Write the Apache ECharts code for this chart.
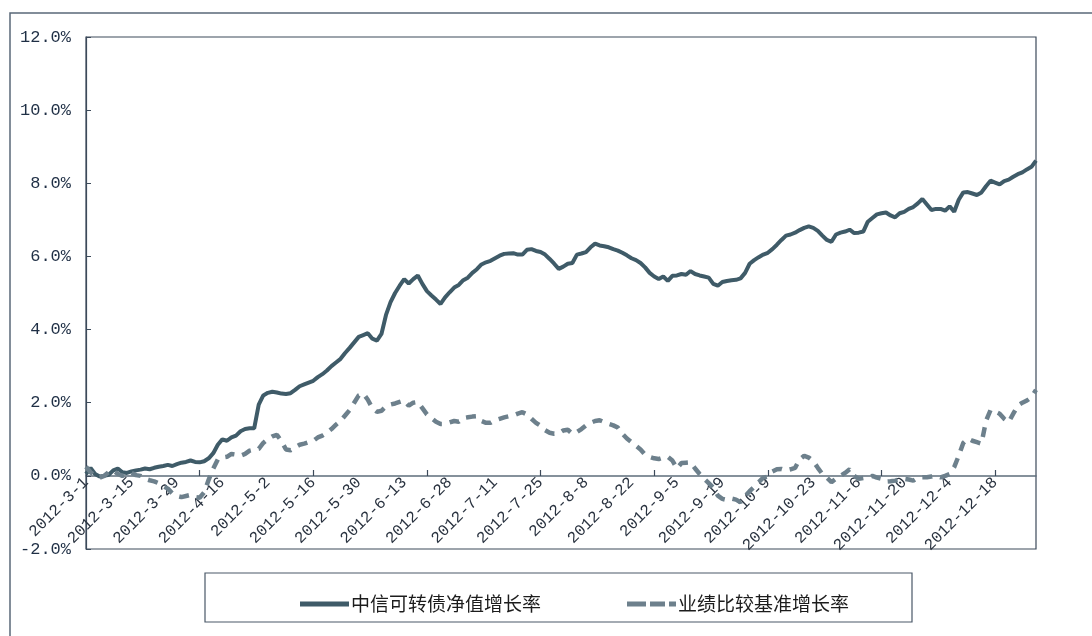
<!DOCTYPE html>
<html>
<head>
<meta charset="utf-8">
<script src="https://cdn.jsdelivr.net/npm/echarts@6/dist/echarts.min.js"></script>
<style>
html,body{margin:0;padding:0;background:#fff;}
#chart{width:1092px;height:636px;}
</style>
</head>
<body>
<div id="chart"></div>
<script>
const dates = [
"2012-3-1","2012-3-2","2012-3-5","2012-3-6","2012-3-7","2012-3-8","2012-3-9","2012-3-12","2012-3-13","2012-3-14",
"2012-3-15","2012-3-16","2012-3-19","2012-3-20","2012-3-21","2012-3-22","2012-3-23","2012-3-26","2012-3-27","2012-3-28",
"2012-3-29","2012-3-30","2012-3-31","2012-4-5","2012-4-6","2012-4-9","2012-4-10","2012-4-11","2012-4-12","2012-4-13",
"2012-4-16","2012-4-17","2012-4-18","2012-4-19","2012-4-20","2012-4-23","2012-4-24","2012-4-25","2012-4-26","2012-4-27",
"2012-5-2","2012-5-3","2012-5-4","2012-5-7","2012-5-8","2012-5-9","2012-5-10","2012-5-11","2012-5-14","2012-5-15",
"2012-5-16","2012-5-17","2012-5-18","2012-5-21","2012-5-22","2012-5-23","2012-5-24","2012-5-25","2012-5-28","2012-5-29",
"2012-5-30","2012-5-31","2012-6-1","2012-6-4","2012-6-5","2012-6-6","2012-6-7","2012-6-8","2012-6-11","2012-6-12",
"2012-6-13","2012-6-14","2012-6-15","2012-6-18","2012-6-19","2012-6-20","2012-6-21","2012-6-25","2012-6-26","2012-6-27",
"2012-6-28","2012-6-29","2012-6-30","2012-7-2","2012-7-3","2012-7-4","2012-7-5","2012-7-6","2012-7-9","2012-7-10",
"2012-7-11","2012-7-12","2012-7-13","2012-7-16","2012-7-17","2012-7-18","2012-7-19","2012-7-20","2012-7-23","2012-7-24",
"2012-7-25","2012-7-26","2012-7-27","2012-7-30","2012-7-31","2012-8-1","2012-8-2","2012-8-3","2012-8-6","2012-8-7",
"2012-8-8","2012-8-9","2012-8-10","2012-8-13","2012-8-14","2012-8-15","2012-8-16","2012-8-17","2012-8-20","2012-8-21",
"2012-8-22","2012-8-23","2012-8-24","2012-8-27","2012-8-28","2012-8-29","2012-8-30","2012-8-31","2012-9-3","2012-9-4",
"2012-9-5","2012-9-6","2012-9-7","2012-9-10","2012-9-11","2012-9-12","2012-9-13","2012-9-14","2012-9-17","2012-9-18",
"2012-9-19","2012-9-20","2012-9-21","2012-9-24","2012-9-25","2012-9-26","2012-9-27","2012-9-28","2012-9-30","2012-10-8",
"2012-10-9","2012-10-10","2012-10-11","2012-10-12","2012-10-15","2012-10-16","2012-10-17","2012-10-18","2012-10-19","2012-10-22",
"2012-10-23","2012-10-24","2012-10-25","2012-10-26","2012-10-29","2012-10-30","2012-10-31","2012-11-1","2012-11-2","2012-11-5",
"2012-11-6","2012-11-7","2012-11-8","2012-11-9","2012-11-12","2012-11-13","2012-11-14","2012-11-15","2012-11-16","2012-11-19",
"2012-11-20","2012-11-21","2012-11-22","2012-11-23","2012-11-26","2012-11-27","2012-11-28","2012-11-29","2012-11-30","2012-12-3",
"2012-12-4","2012-12-5","2012-12-6","2012-12-7","2012-12-10","2012-12-11","2012-12-12","2012-12-13","2012-12-14","2012-12-17",
"2012-12-18","2012-12-19","2012-12-20","2012-12-21","2012-12-24","2012-12-25","2012-12-26","2012-12-27","2012-12-28","2012-12-31"
];

const seriesNames = ["中信可转债净值增长率", "业绩比较基准增长率"];

// 中信可转债净值增长率 (%)
const navGrowth = [
0.05,0.22,0.05,-0.02,0.00,0.03,0.15,0.20,0.10,0.08,
0.12,0.15,0.17,0.20,0.18,0.22,0.25,0.27,0.30,0.27,
0.32,0.36,0.38,0.42,0.38,0.37,0.40,0.48,0.62,0.85,
1.00,0.96,1.05,1.10,1.22,1.28,1.30,1.30,1.95,2.20,
2.27,2.30,2.28,2.25,2.24,2.26,2.35,2.45,2.50,2.55,
2.60,2.70,2.78,2.88,3.00,3.10,3.20,3.36,3.50,3.65,
3.80,3.85,3.90,3.75,3.70,3.88,4.40,4.75,5.00,5.20,
5.38,5.26,5.38,5.48,5.25,5.05,4.93,4.82,4.70,4.88,
5.02,5.15,5.22,5.35,5.42,5.55,5.65,5.78,5.84,5.88,
5.95,6.02,6.07,6.08,6.09,6.05,6.05,6.18,6.20,6.15,
6.12,6.05,5.93,5.80,5.66,5.72,5.80,5.82,6.05,6.08,
6.12,6.25,6.35,6.30,6.28,6.25,6.20,6.16,6.10,6.03,
5.95,5.90,5.82,5.70,5.55,5.45,5.38,5.45,5.33,5.47,
5.48,5.52,5.50,5.60,5.52,5.48,5.45,5.42,5.25,5.20,
5.30,5.33,5.35,5.36,5.40,5.55,5.80,5.90,5.98,6.05,
6.10,6.20,6.32,6.45,6.57,6.60,6.65,6.72,6.78,6.82,
6.78,6.70,6.57,6.45,6.40,6.60,6.65,6.68,6.73,6.64,
6.65,6.68,6.95,7.05,7.15,7.18,7.20,7.12,7.07,7.18,
7.22,7.30,7.35,7.45,7.57,7.42,7.27,7.30,7.30,7.25,
7.37,7.22,7.55,7.75,7.76,7.72,7.68,7.75,7.92,8.07,
8.02,7.97,8.06,8.10,8.18,8.25,8.30,8.38,8.45,8.62
];

// 业绩比较基准增长率 (%)
const benchmarkGrowth = [
0.25,0.10,0.00,-0.05,0.00,0.10,0.15,0.05,0.00,0.05,
0.08,0.02,0.00,-0.08,-0.12,-0.15,-0.20,-0.28,-0.35,-0.48,
-0.55,-0.58,-0.55,-0.52,-0.58,-0.60,-0.45,-0.10,0.20,0.45,
0.50,0.52,0.60,0.58,0.55,0.60,0.69,0.72,0.74,0.90,
1.00,1.08,1.12,0.95,0.72,0.70,0.78,0.85,0.88,0.92,
0.96,1.05,1.10,1.18,1.28,1.40,1.50,1.65,1.80,2.00,
2.20,2.25,2.08,1.85,1.75,1.78,1.90,1.95,1.98,2.02,
2.06,1.92,2.00,2.02,1.85,1.68,1.58,1.48,1.42,1.42,
1.46,1.50,1.48,1.58,1.60,1.62,1.63,1.50,1.45,1.45,
1.52,1.56,1.60,1.63,1.65,1.70,1.74,1.68,1.56,1.45,
1.37,1.25,1.18,1.15,1.16,1.24,1.26,1.15,1.20,1.28,
1.38,1.45,1.50,1.52,1.47,1.42,1.38,1.32,1.15,1.02,
0.92,0.82,0.72,0.58,0.52,0.48,0.46,0.50,0.52,0.42,
0.20,0.35,0.36,0.37,0.20,0.05,-0.08,-0.20,-0.32,-0.54,
-0.63,-0.66,-0.62,-0.65,-0.72,-0.56,-0.42,-0.30,-0.17,-0.05,
-0.02,0.12,0.18,0.19,0.15,0.18,0.22,0.45,0.55,0.50,
0.40,0.22,0.05,-0.05,-0.17,-0.08,0.00,0.08,0.18,0.00,
-0.08,-0.06,-0.04,0.00,-0.05,-0.08,-0.16,-0.15,-0.13,-0.10,
-0.08,-0.10,-0.13,-0.05,-0.04,-0.04,-0.02,0.00,-0.04,0.00,
0.05,0.24,0.55,0.90,1.02,0.96,0.92,0.88,1.50,1.80,
1.76,1.70,1.56,1.47,1.70,1.92,2.00,2.06,2.15,2.35
];

const yMin = -2, yMax = 12, yStep = 2;

const gridTop = 37, gridBottom = 87, chartH = 636;
const gridH = chartH - gridTop - gridBottom;
// move the category axis (line, ticks and labels) up to the 0% level
const xAxisOffset = -Math.round((0 - yMin) / (yMax - yMin) * gridH);

const solidColor = '#3f5b68';
const dashColor = '#6d808c';
const axisColor = '#3c4a5a';

const chart = echarts.init(document.getElementById('chart'), null, {renderer: 'canvas'});
chart.setOption({
  backgroundColor: '#ffffff',
  animation: false,
  graphic: [
    {type: 'rect', shape: {x: 10, y: 13, width: 1200, height: 700}, style: {fill: 'none', stroke: '#5a6878', lineWidth: 1.5}, z: 0},
    {type: 'rect', shape: {x: 205, y: 573, width: 707, height: 49}, style: {fill: 'none', stroke: '#4a5868', lineWidth: 1.2}, z: 0}
  ],
  grid: {
    left: 86, top: gridTop, right: 56, bottom: gridBottom,
    show: true, borderColor: axisColor, borderWidth: 1.2, backgroundColor: 'transparent'
  },
  legend: {
    left: 295, top: 588,
    itemWidth: 49, itemHeight: 5, itemGap: 86,
    data: [
      {name: seriesNames[0], icon: 'path://M0,0H49V5H0Z'},
      {name: seriesNames[1], icon: 'path://M0,0H19V5H0Z M23,0H38V5H23Z M42,0H49V5H42Z'}
    ],
    textStyle: {fontFamily: 'Noto Sans CJK SC', fontSize: 19, lineHeight: 22, color: '#1c1c1c', padding: [0,0,0,-3]}
  },
  xAxis: {
    type: 'category',
    data: dates,
    boundaryGap: false,
    offset: xAxisOffset,
    axisLine: {onZero: false, lineStyle: {color: '#5d6d7b', width: 1.5}},
    axisTick: {show: true, inside: true, interval: 24, length: 6, lineStyle: {color: '#3c4a5a', width: 1.2}},
    axisLabel: {
      interval: 9, rotate: 45, margin: 4,
      fontFamily: 'Liberation Mono', fontSize: 16, color: '#2a3340'
    },
    splitLine: {show: false}
  },
  yAxis: {
    type: 'value',
    min: yMin, max: yMax, interval: yStep,
    axisLine: {show: true, onZero: false, lineStyle: {color: axisColor, width: 1.2}},
    axisTick: {show: true, inside: true, length: 5, lineStyle: {color: axisColor}},
    axisLabel: {
      margin: 15,
      fontFamily: 'Liberation Mono', fontSize: 17, color: '#1f2f45',
      formatter: v => v.toFixed(1) + '%'
    },
    splitLine: {show: false}
  },
  series: [
    {
      name: seriesNames[0], type: 'line', data: navGrowth,
      symbol: 'none', smooth: false, z: 3,
      lineStyle: {color: solidColor, width: 4},
      itemStyle: {color: solidColor}
    },
    {
      name: seriesNames[1], type: 'line', data: benchmarkGrowth,
      symbol: 'none', smooth: false, z: 4,
      lineStyle: {color: dashColor, width: 4.5, type: [10, 8]},
      itemStyle: {color: dashColor}
    }
  ]
});
</script>
</body>
</html>
